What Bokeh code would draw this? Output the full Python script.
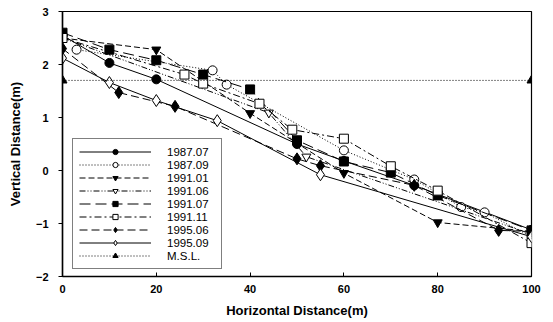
from bokeh.plotting import figure
from bokeh.embed import file_html
from bokeh.resources import INLINE
from bokeh.models import Legend, LegendItem, FixedTicker, Range1d

# ---- data ----
x_8707 = [0, 10, 20, 50, 60, 75, 100]
y_8707 = [2.55, 2.03, 1.72, 0.50, 0.18, -0.28, -1.12]

x_8709 = [3, 32, 35, 60, 75, 85, 90, 100]
y_8709 = [2.28, 1.89, 1.62, 0.38, -0.17, -0.69, -0.79, -1.25]

x_9101 = [0, 20, 40, 60, 80, 100]
y_9101 = [2.50, 2.28, 1.08, -0.05, -0.98, -1.15]

x_9106 = [0, 44, 52, 100]
y_9106 = [2.50, 1.09, 0.26, -1.20]

x_9107 = [0, 10, 20, 30, 40, 50, 60, 70, 80, 100]
y_9107 = [2.60, 2.28, 2.08, 1.81, 1.53, 0.57, 0.17, -0.04, -0.47, -1.13]

x_9111 = [0, 26, 30, 42, 49, 60, 70, 80, 100]
y_9111 = [2.50, 1.81, 1.64, 1.26, 0.77, 0.60, 0.08, -0.38, -1.37]

x_9506 = [0, 12, 24, 50, 55, 75, 93, 100]
y_9506 = [2.30, 1.47, 1.21, 0.22, 0.09, -0.28, -1.13, -1.15]

x_9509 = [0, 10, 20, 33, 55, 100]
y_9509 = [2.12, 1.66, 1.32, 0.94, -0.08, -1.25]

x_msl = [0, 100]
y_msl = [1.70, 1.70]

x_ticks = [0, 20, 40, 60, 80, 100]
y_ticks = [-2, -1, 0, 1, 2, 3]

FONT = "Liberation Sans"

p = figure(width=553, height=322, output_backend="svg", toolbar_location=None,
           x_range=Range1d(0, 100), y_range=Range1d(-2, 3),
           min_border_left=62, min_border_right=22, min_border_top=11, min_border_bottom=46)
p.xgrid.visible = False
p.ygrid.visible = False
p.outline_line_color = "black"
p.outline_line_width = 1.2
p.background_fill_color = "white"
p.border_fill_color = "white"

p.xaxis.ticker = FixedTicker(ticks=x_ticks)
p.yaxis.ticker = FixedTicker(ticks=y_ticks)
for ax in (p.xaxis[0], p.yaxis[0]):
    ax.axis_line_color = "black"
    ax.axis_line_width = 1.5
    ax.major_tick_line_color = "black"
    ax.minor_tick_line_color = None
    ax.major_label_text_font = FONT
    ax.major_label_text_font_size = "11px"
    ax.major_label_text_font_style = "bold"
    ax.major_label_text_color = "black"
    ax.axis_label_text_font = FONT
    ax.axis_label_text_font_size = "13px"
    ax.axis_label_text_font_style = "bold"
    ax.axis_label_text_color = "black"
p.xaxis.major_tick_in = 4
p.xaxis.major_tick_out = 0
p.yaxis.major_tick_in = 0
p.yaxis.major_tick_out = 4
p.xaxis.major_label_standoff = 8
p.yaxis.major_label_standoff = 10
p.xaxis.axis_label = "Horizontal Distance(m)"
p.yaxis.axis_label = "Vertical Distance(m)"
p.xaxis.axis_label_standoff = 7
p.yaxis.axis_label_standoff = 10

series = [
    ("1987.07", x_8707, y_8707, None, "circle", "black"),
    ("1987.09", x_8709, y_8709, "1 2", "circle", "white"),
    ("1991.01", x_9101, y_9101, "6 3", "inverted_triangle", "black"),
    ("1991.06", x_9106, y_9106, "6 2 1 2 1 2", "inverted_triangle", "white"),
    ("1991.07", x_9107, y_9107, "11 5", "square", "black"),
    ("1991.11", x_9111, y_9111, "7 3 2 3", "square", "white"),
    ("1995.06", x_9506, y_9506, "8 4", "diamond", "black"),
    ("1995.09", x_9509, y_9509, None, "diamond", "white"),
    ("M.S.L.", x_msl, y_msl, "1 2", "triangle", "black"),
]

items = []
for label, xs, ys, dash, marker, fill in series:
    kw = {}
    if dash:
        kw["line_dash"] = dash
    ln = p.line(xs, ys, line_color="black", line_width=1, **kw)
    size = 12 if marker == "diamond" else 9
    sc = p.scatter(xs, ys, marker=marker, size=size, fill_color=fill,
                   line_color="black", line_width=1)
    items.append(LegendItem(label=label, renderers=[ln, sc]))

legend = Legend(items=items, location=(10, 7),
                border_line_color="black", border_line_width=1,
                background_fill_color="white", background_fill_alpha=1,
                glyph_width=72, glyph_height=13, label_height=13,
                label_standoff=16, label_width=48, spacing=0,
                padding=6, margin=0,
                label_text_font=FONT, label_text_font_size="11.5px",
                label_text_font_style="normal", label_text_color="black")
p.add_layout(legend, "center")

open("out.html", "w").write(file_html(p, INLINE))
